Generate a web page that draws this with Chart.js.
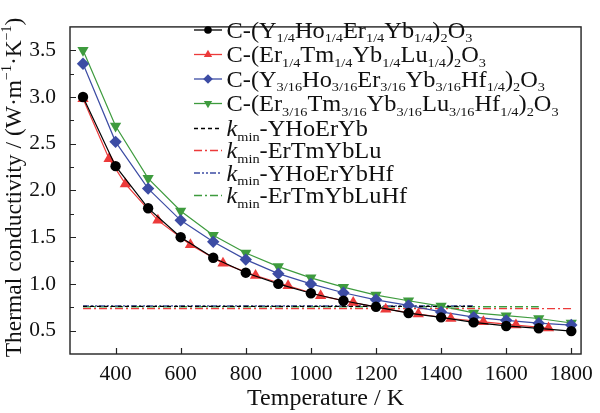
<!DOCTYPE html>
<html><head><meta charset="utf-8">
<script src="https://cdn.jsdelivr.net/npm/chart.js@4/dist/chart.umd.min.js"></script>
<style>html,body{margin:0;padding:0;background:#fff}canvas{display:block}</style>
</head><body>
<canvas id="c" width="600" height="413"></canvas>
<script>
// ---- data ----
const temps = [300,400,500,600,700,800,900,1000,1100,1200,1300,1400,1500,1600,1700,1800];
const tempsErTmYbLu = [300,380,430,530,630,730,830,930,1030,1130,1230,1330,1430,1530,1630,1730];
const kYHoErYb     = [3.00,2.26,1.81,1.50,1.28,1.12,1.00,0.90,0.82,0.755,0.688,0.642,0.588,0.55,0.525,0.495];
const kErTmYbLu    = [2.98,2.34,2.07,1.68,1.42,1.22,1.09,0.98,0.872,0.80,0.73,0.678,0.63,0.594,0.56,0.528];
const kYHoErYbHf   = [3.355,2.52,2.02,1.68,1.45,1.26,1.11,1.00,0.905,0.83,0.77,0.70,0.645,0.61,0.58,0.56];
const kErTmYbLuHf  = [3.50,2.69,2.13,1.78,1.52,1.33,1.185,1.065,0.965,0.88,0.82,0.763,0.69,0.66,0.63,0.582];
const kminTempsYHoErYb = [300,1500];   const kminYHoErYb = [0.76,0.76];
const kminTempsErTmYbLu = [300,1800];  const kminErTmYbLu = [0.735,0.735];
const kminTempsYHoErYbHf = [300,1500]; const kminYHoErYbHf = [0.765,0.765];
const kminTempsErTmYbLuHf = [300,1700];const kminErTmYbLuHf = [0.755,0.755];
const xTickValues = [400,600,800,1000,1200,1400,1600,1800];
const yTickValues = [0.5,1.0,1.5,2.0,2.5,3.0,3.5];
const yMinorTicks = [0.75,1.25,1.75,2.25,2.75,3.25];

// legend labels: [text, style] style 0=normal,1=subscript,2=italic
const legendLabels = [
  [["C-(Y",0],["1/4",1],["Ho",0],["1/4",1],["Er",0],["1/4",1],["Yb",0],["1/4",1],[")",0],["2",1],["O",0],["3",1]],
  [["C-(Er",0],["1/4",1],["Tm",0],["1/4",1],["Yb",0],["1/4",1],["Lu",0],["1/4",1],[")",0],["2",1],["O",0],["3",1]],
  [["C-(Y",0],["3/16",1],["Ho",0],["3/16",1],["Er",0],["3/16",1],["Yb",0],["3/16",1],["Hf",0],["1/4",1],[")",0],["2",1],["O",0],["3",1]],
  [["C-(Er",0],["3/16",1],["Tm",0],["3/16",1],["Yb",0],["3/16",1],["Lu",0],["3/16",1],["Hf",0],["1/4",1],[")",0],["2",1],["O",0],["3",1]],
  [["k",2],["min",1],["-YHoErYb",0]],
  [["k",2],["min",1],["-ErTmYbLu",0]],
  [["k",2],["min",1],["-YHoErYbHf",0]],
  [["k",2],["min",1],["-ErTmYbLuHf",0]]
];
const yTitleParts = [["Thermal conductivity / (W·m",0],["−1",3],["·K",0],["−1",3],[")",0]];

// ---- styles ----
const BLACK='#000000', RED='#ec3a3a', BLUE='#3c4ca4', GREEN='#3e9b3e';
const FONT="'Liberation Serif', 'Times New Roman', serif";
const pts = (xs, ys) => xs.map((x,i)=>({x:x, y:ys[i]}));

const datasets = [
  {data:pts(temps,kYHoErYb), borderColor:BLACK, backgroundColor:BLACK, pointStyle:'circle', pointRadius:5.2},
  {data:pts(tempsErTmYbLu,kErTmYbLu), borderColor:RED, backgroundColor:RED, pointStyle:'triangle', pointRadius:6.5},
  {data:pts(temps,kYHoErYbHf), borderColor:BLUE, backgroundColor:BLUE, pointStyle:'rectRot', pointRadius:6.2},
  {data:pts(temps,kErTmYbLuHf), borderColor:GREEN, backgroundColor:GREEN, pointStyle:'triangle', rotation:180, pointRadius:6.5},
  {data:pts(kminTempsYHoErYb,kminYHoErYb), borderColor:BLACK, borderDash:[4,3], pointRadius:0, borderWidth:1.4},
  {data:pts(kminTempsErTmYbLu,kminErTmYbLu), borderColor:RED, borderDash:[8,3,2,3], pointRadius:0, borderWidth:1.4},
  {data:pts(kminTempsYHoErYbHf,kminYHoErYbHf), borderColor:BLUE, borderDash:[6,2,2,2,2,2], pointRadius:0, borderWidth:1.4},
  {data:pts(kminTempsErTmYbLuHf,kminErTmYbLuHf), borderColor:GREEN, borderDash:[8,3,2,3], pointRadius:0, borderWidth:1.4}
];
datasets.forEach((d,i)=>{ if(i<4){ d.borderWidth=1.2; d.pointBorderWidth=0; } d.tension=0; d.fill=false; });

function fontFor(s,size,subSize){
  if(s===2) return 'italic '+size+'px '+FONT;
  return ((s===1||s===3)?subSize:size)+'px '+FONT;
}
function drawRich(ctx, parts, x, y, size, subSize, subOff){
  ctx.textBaseline='alphabetic'; ctx.textAlign='left';
  for(const [t,s] of parts){
    let dy=0;
    if(s===1) dy=subOff; else if(s===3) dy=-size*0.42;
    ctx.font=fontFor(s,size,subSize); ctx.fillText(t,x,y+dy); x+=ctx.measureText(t).width;
  }
  return x;
}
function richWidth(ctx, parts, size, subSize){
  let w=0;
  for(const [t,s] of parts){ ctx.font=fontFor(s,size,subSize); w+=ctx.measureText(t).width; }
  return w;
}

const decor = {
  id:'decor',
  afterDraw(chart){
    const ctx=chart.ctx, a=chart.chartArea, xs=chart.scales.x, ys=chart.scales.y;
    ctx.save();
    // frame
    ctx.strokeStyle='#222'; ctx.lineWidth=1.4;
    ctx.strokeRect(a.left, a.top, a.right-a.left, a.bottom-a.top);
    // ticks (inward)
    ctx.lineWidth=1.2; ctx.beginPath();
    xTickValues.forEach(v=>{const p=Math.round(xs.getPixelForValue(v))+0.5; ctx.moveTo(p,a.bottom); ctx.lineTo(p,a.bottom-6);});
    yTickValues.forEach(v=>{const p=Math.round(ys.getPixelForValue(v))+0.5; ctx.moveTo(a.left,p); ctx.lineTo(a.left+6,p);});
    yMinorTicks.forEach(v=>{const p=Math.round(ys.getPixelForValue(v))+0.5; ctx.moveTo(a.left,p); ctx.lineTo(a.left+4,p);});
    ctx.stroke();
    // y title
    ctx.fillStyle='#111';
    const tw=richWidth(ctx,yTitleParts,23.5,14);
    ctx.translate(20.5,(a.top+a.bottom)/2-3); ctx.rotate(-Math.PI/2);
    drawRich(ctx,yTitleParts,-tw/2,0,23.5,14,0);
    ctx.setTransform(1,0,0,1,0,0);
    // legend
    const rowY=[30,54.5,79,103.5,128.5,150.5,173,195.5];
    const x0=194, x1=222, xm=208, tx=226.5, stretch=1.06;
    legendLabels.forEach((parts,i)=>{
      const ds=chart.data.datasets[i], y=rowY[i];
      ctx.save();
      ctx.strokeStyle=ds.borderColor; ctx.lineWidth=1.3;
      ctx.setLineDash(ds.borderDash||[]);
      ctx.beginPath(); ctx.moveTo(x0,y); ctx.lineTo(x1,y); ctx.stroke();
      ctx.setLineDash([]);
      if(i<4){
        ctx.fillStyle=ds.backgroundColor;
        Chart.helpers.drawPoint(ctx,{pointStyle:ds.pointStyle, rotation:ds.rotation||0, radius: i===0?3.8:4.8, borderWidth:0},xm,y);
      }
      ctx.restore();
      ctx.save();
      ctx.fillStyle='#111';
      ctx.translate(tx,y+7.5); ctx.scale(stretch,1);
      drawRich(ctx,parts,0,0,23,13.5,4.6);
      ctx.restore();
    });
    ctx.restore();
  }
};

new Chart(document.getElementById('c'),{
  type:'line',
  data:{datasets:datasets},
  options:{
    responsive:false, animation:false, devicePixelRatio:1,
    layout:{padding:{top:7,right:11,left:0,bottom:0}},
    plugins:{legend:{display:false}, tooltip:{enabled:false}},
    scales:{
      x:{type:'linear', min:260, max:1830,
        afterBuildTicks:s=>{s.ticks=xTickValues.map(v=>({value:v}));},
        afterFit:s=>{s.height=59;},
        grid:{display:false, drawTicks:false}, border:{display:false},
        ticks:{font:{family:FONT,size:21.5}, color:'#111', padding:7, maxRotation:0, autoSkip:false, callback:v=>String(v)},
        title:{display:true, text:'Temperature / K', font:{family:FONT,size:24}, color:'#111', padding:{top:0,bottom:0}}},
      y:{type:'linear', min:0.25, max:3.75,
        afterBuildTicks:s=>{s.ticks=yTickValues.map(v=>({value:v}));},
        afterFit:s=>{s.width=70;},
        grid:{display:false, drawTicks:false}, border:{display:false},
        ticks:{font:{family:FONT,size:21.5}, color:'#111', padding:14, autoSkip:false, callback:v=>Number(v).toFixed(1)}}
    }
  },
  plugins:[decor]
});
</script>
</body></html>
